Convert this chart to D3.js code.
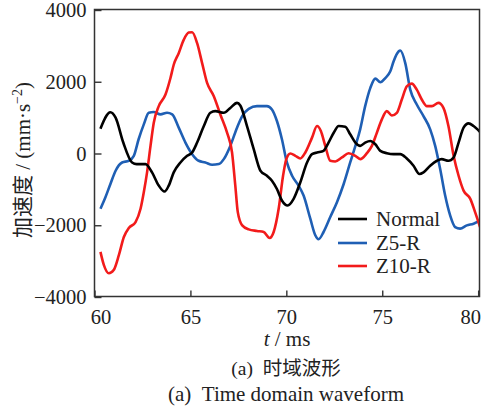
<!DOCTYPE html>
<html><head><meta charset="utf-8">
<script src="https://cdn.jsdelivr.net/npm/d3@7"></script>
<style>body{margin:0;background:#fff}svg{display:block}</style>
</head><body>
<script>
const xTicks = [60, 65, 70, 75, 80];
const yTicks = [-4000, -2000, 0, 2000, 4000];
const seriesNames = ["Normal", "Z5-R", "Z10-R"];

const normalT = [60.31,60.83,61.1,61.5,61.96,62.2,62.66,63.0,63.35,63.65,63.87,64.13,64.48,64.83,65.09,65.35,65.7,66.04,66.3,66.74,67.08,67.43,67.6,67.95,68.3,68.65,68.99,69.25,69.51,69.77,70.07,70.38,70.73,71.08,71.34,71.6,71.94,72.2,72.47,72.73,73.07,73.33,73.6,73.85,74.11,74.38,74.64,74.9,75.24,75.59,75.94,76.28,76.63,76.94,77.15,77.5,77.85,78.1,78.45,78.72,78.98,79.24,79.5,79.76,80.1];
const normalV = [692,1150,1000,305,-250,-295,-295,-526,-895,-1060,-895,-526,-250,-65,28,305,766,1135,1180,1135,1270,1410,1340,766,120,-480,-620,-757,-990,-1310,-1450,-1265,-800,-250,-18,28,74,305,580,766,748,535,305,212,305,350,258,74,9,-18,-18,-138,-340,-572,-526,-340,-203,-157,-203,-110,305,720,840,766,600];

const z5T = [60.31,60.57,60.83,61.1,61.44,61.79,62.05,62.3,62.57,62.83,63.09,63.44,63.78,64.05,64.39,64.74,65.09,65.43,65.78,66.13,66.48,66.74,67.08,67.43,67.7,68.04,68.47,68.99,69.25,69.51,69.77,70.03,70.3,70.64,70.9,71.25,71.51,71.68,71.94,72.29,72.64,72.99,73.33,73.6,73.85,74.11,74.38,74.64,74.9,75.16,75.42,75.59,75.85,75.94,76.2,76.46,76.8,77.15,77.5,77.76,78.02,78.28,78.54,78.8,79.06,79.41,79.76,80.1];
const z5V = [-1540,-1220,-850,-480,-250,-203,-65,397,812,1135,1155,1090,1135,1090,720,305,-18,-203,-250,-314,-295,-157,212,720,1043,1246,1320,1320,1228,905,397,-250,-620,-895,-1172,-1818,-2280,-2390,-2188,-1772,-1357,-850,-250,212,674,1320,1830,2086,1985,2104,2290,2566,2843,2870,2520,1780,1366,1043,674,212,-434,-1172,-1726,-2050,-2095,-2003,-1957,-1865];

const z10T = [60.31,60.49,60.75,61.0,61.27,61.53,61.79,62.14,62.4,62.57,62.74,62.92,63.09,63.35,63.7,63.96,64.13,64.39,64.65,64.91,65.09,65.35,65.61,65.87,66.22,66.56,66.91,67.17,67.34,67.47,67.7,68.04,68.47,68.82,69.13,69.34,69.6,69.83,70.0,70.21,70.47,70.73,70.99,71.34,71.6,71.8,72.03,72.29,72.55,72.9,73.25,73.6,73.85,74.2,74.46,74.72,74.98,75.24,75.5,75.76,76.02,76.28,76.54,76.8,77.06,77.33,77.59,77.93,78.19,78.45,78.72,78.98,79.24,79.59,79.84,80.1];
const z10V = [-2741,-3110,-3340,-3250,-2833,-2326,-2077,-1910,-1540,-1080,-526,212,858,1320,1643,2104,2474,2797,3166,3370,3380,3074,2520,1966,1597,1089,581,28,-895,-1634,-2003,-2114,-2160,-2188,-2354,-2188,-1541,-620,-157,0,-65,-138,28,443,766,628,212,-203,-222,-110,9,-65,-157,9,212,580,950,1180,1060,1135,1505,1873,1947,1780,1505,1320,1320,1410,1274,766,-65,-620,-1034,-1265,-1634,-2050];

const colors = ["#000000", "#1f5fb4", "#f21b1b"];

const W = 488, H = 408;
const svg = d3.select("body").append("svg").attr("width", W).attr("height", H);
const L = 94.5, R = 479.5, T = 9.5, B = 296.5;
const x = d3.scaleLinear().domain([60, 80.07]).range([L, R]);
const y = d3.scaleLinear().domain([-4000, 4000]).range([297, 10]);

const serif = "'Liberation Serif','Times New Roman',serif";
const cjk = "'Noto Sans CJK SC',sans-serif";

svg.append("defs").append("clipPath").attr("id", "clip")
  .append("rect").attr("x", L).attr("y", T).attr("width", R - L).attr("height", B - T);

// axes with inward ticks
const xAxis = svg.append("g").attr("transform", `translate(0,${B})`)
  .call(d3.axisBottom(x).tickValues(xTicks).tickSize(-6).tickPadding(13).tickFormat(d3.format("d")));
const yAxis = svg.append("g").attr("transform", `translate(${L},0)`)
  .call(d3.axisLeft(y).tickValues(yTicks).tickSize(-7).tickPadding(8)
    .tickFormat(d => d < 0 ? "\u2212" + Math.abs(d) : String(d)));
[xAxis, yAxis].forEach(g => {
  g.select(".domain").remove();
  g.selectAll("line").attr("stroke", "#333").attr("stroke-width", 1.4);
  g.selectAll("text").attr("font-family", serif).attr("font-size", 20.5).attr("fill", "#222");
});
xAxis.selectAll("text").attr("dy", "0.71em").attr("dx", d => d === 60 ? 6 : d === 80 ? -8 : 0);

// series
const series = [[normalT, normalV], [z5T, z5V], [z10T, z10V]];
const line = d3.line().x(d => x(d[0])).y(d => y(d[1])).curve(d3.curveMonotoneX);
const gLines = svg.append("g").attr("clip-path", "url(#clip)");
[1, 2, 0].forEach(i => {
  const [tt, vv] = series[i];
  gLines.append("path").datum(tt.map((t, k) => [t, vv[k]]))
    .attr("d", line).attr("fill", "none").attr("stroke", colors[i])
    .attr("stroke-width", 2.6).attr("stroke-linejoin", "round");
});

// frame
svg.append("rect").attr("x", L).attr("y", T).attr("width", R - L).attr("height", B - T)
  .attr("fill", "none").attr("stroke", "#333").attr("stroke-width", 1.5);

// legend
const legY = [219, 243, 266];
seriesNames.forEach((n, i) => {
  svg.append("line").attr("x1", 338).attr("x2", 367).attr("y1", legY[i]).attr("y2", legY[i])
    .attr("stroke", colors[i]).attr("stroke-width", 2.6);
  svg.append("text").attr("x", 376).attr("y", legY[i] + 7).text(n)
    .attr("font-family", serif).attr("font-size", 21).attr("fill", "#222");
});

// y title
const yt = svg.append("text").attr("transform", "translate(30,160) rotate(-90)")
  .attr("text-anchor", "middle").attr("font-size", 21).attr("fill", "#222");
yt.append("tspan").attr("font-family", cjk).text("加速度");
yt.append("tspan").attr("font-family", serif).text(" / (mm·s");
yt.append("tspan").attr("font-family", serif).attr("font-size", 14).attr("dy", -8).text("\u22122");
yt.append("tspan").attr("font-family", serif).attr("dy", 8).text(")");

// x title
const xt = svg.append("text").attr("x", 287).attr("y", 346).attr("text-anchor", "middle")
  .attr("font-family", serif).attr("font-size", 21).attr("fill", "#222");
xt.append("tspan").attr("font-style", "italic").text("t");
xt.append("tspan").text(" / ms");

// captions
const c1 = svg.append("text").attr("x", 286).attr("y", 374.5).attr("text-anchor", "middle")
  .attr("font-size", 19.5).attr("fill", "#222");
c1.append("tspan").attr("font-family", serif).text("(a)\u00a0\u00a0");
c1.append("tspan").attr("font-family", cjk).text("时域波形");
svg.append("text").attr("x", 286).attr("y", 400.5).attr("text-anchor", "middle")
  .attr("font-family", serif).attr("font-size", 21).attr("fill", "#222")
  .text("(a)\u00a0\u00a0Time domain waveform");
</script>
</body></html>
